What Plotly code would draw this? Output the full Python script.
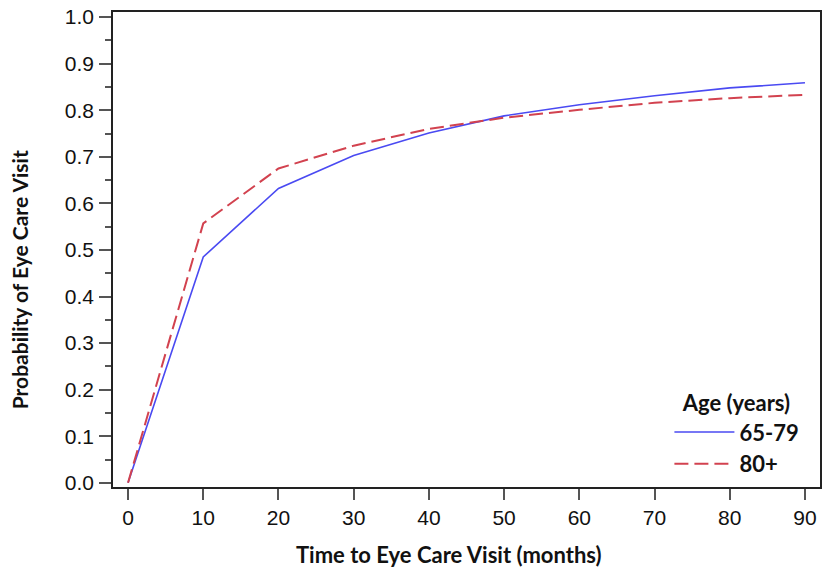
import plotly.graph_objects as go

months = [0, 10, 20, 30, 40, 50, 60, 70, 80, 90]
age_65_79 = [0.0, 0.485, 0.632, 0.703, 0.751, 0.788, 0.812, 0.831, 0.848, 0.859]
age_80_plus = [0.0, 0.557, 0.675, 0.724, 0.760, 0.784, 0.801, 0.816, 0.826, 0.833]
x_ticks = [0, 10, 20, 30, 40, 50, 60, 70, 80, 90]
y_ticks = [0.0, 0.1, 0.2, 0.3, 0.4, 0.5, 0.6, 0.7, 0.8, 0.9, 1.0]

ARIAL = "Liberation Sans"
CAL = "Lato"

fig = go.Figure()
fig.add_trace(go.Scatter(x=months, y=age_65_79, mode="lines", name="<b>65-79</b>",
                         line=dict(color="#4a4af2", width=1.6)))
fig.add_trace(go.Scatter(x=months, y=age_80_plus, mode="lines", name="<b>80+</b>",
                         line=dict(color="#d2424f", width=2, dash="14px,6px")))

fig.update_layout(
    width=826, height=577,
    margin=dict(l=113, r=4, t=12, b=90),
    paper_bgcolor="white", plot_bgcolor="white",
    font=dict(family=ARIAL, color="#111"),
    legend=dict(
        title=dict(text="<b>Age (years)</b>", side="top center",
                   font=dict(family=CAL, size=22, color="#111")),
        font=dict(family=CAL, size=22, color="#111"),
        x=0.787, y=0.005, xanchor="left", yanchor="bottom",
        itemwidth=60,
        bgcolor="rgba(255,255,255,0)", tracegroupgap=0,
    ),
    xaxis=dict(
        range=[-2, 92], tickvals=x_ticks, ticktext=[str(v) for v in x_ticks],
        showgrid=False, zeroline=False,
        showline=True, linecolor="#222", linewidth=1.5, mirror=True,
        ticks="outside", ticklen=11, tickcolor="#555", tickwidth=1.5,
        tickfont=dict(family=ARIAL, size=21, color="#111"), ticklabelstandoff=0,
    ),
    yaxis=dict(
        range=[-0.009, 1.011], tickvals=y_ticks, ticktext=[f"{v:.1f}" for v in y_ticks],
        showgrid=False, zeroline=False,
        showline=True, linecolor="#222", linewidth=1.5, mirror=True,
        ticks="outside", ticklen=12, tickcolor="#555", tickwidth=1.5,
        tickfont=dict(family=ARIAL, size=21, color="#111"), ticklabelstandoff=1,
        minor=dict(dtick=0.05, tick0=0.05, ticks="outside", ticklen=6, tickcolor="#555", tickwidth=1.5),
    ),
    annotations=[
        dict(text="<b>Time to Eye Care Visit (months)</b>", xref="paper", yref="paper",
             x=0.475, y=-0.143, xanchor="center", yanchor="middle", showarrow=False,
             font=dict(family=CAL, size=22, color="#111")),
        dict(text="<b>Probability of Eye Care Visit</b>", xref="paper", yref="paper",
             x=-0.131, y=0.436, xanchor="center", yanchor="middle", showarrow=False,
             textangle=-90, font=dict(family=CAL, size=21, color="#111")),
    ],
)

fig.write_html("out.html")
